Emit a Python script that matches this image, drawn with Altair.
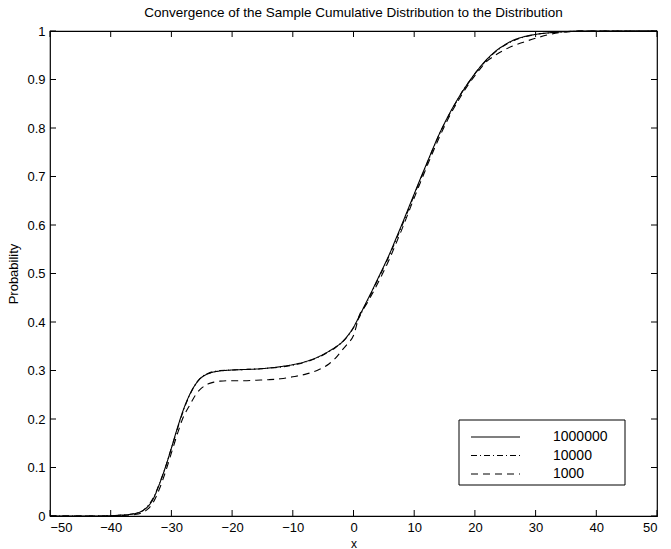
import altair as alt
import pandas as pd

# ---- data ----
x_vals = [-50, -42, -40, -38, -37, -36, -35, -34, -33, -32,
          -31, -30, -29, -28, -27, -26, -25, -24, -23, -22,
          -20, -18, -16, -14, -12, -10, -8, -6, -5, -4,
          -3, -2, -1, 0, 1, 2, 3, 4, 5, 6,
          7, 8, 9, 10, 11, 12, 13, 14, 15, 16,
          17, 18, 19, 20, 21, 22, 23, 24, 25, 26,
          28, 30, 32, 34, 36, 38, 40, 45, 50]

p_1000000 = [0, 0, 0.0005, 0.002, 0.003, 0.005, 0.009, 0.018, 0.035, 0.065,
             0.10, 0.14, 0.182, 0.22, 0.25, 0.272, 0.286, 0.293, 0.297, 0.299,
             0.301, 0.302, 0.303, 0.305, 0.308, 0.312, 0.318, 0.327, 0.333, 0.340,
             0.348, 0.357, 0.371, 0.389, 0.413, 0.438, 0.463, 0.489, 0.515, 0.542,
             0.572, 0.602, 0.633, 0.664, 0.695, 0.725, 0.755, 0.784, 0.810, 0.834,
             0.856, 0.876, 0.895, 0.912, 0.928, 0.942, 0.954, 0.964, 0.972, 0.979,
             0.988, 0.993, 0.996, 0.998, 0.9993, 1, 1, 1, 1]

p_10000 = [0, 0, 0.0005, 0.002, 0.003, 0.005, 0.009, 0.019, 0.037, 0.066,
           0.10, 0.14, 0.18, 0.218, 0.249, 0.272, 0.287, 0.294, 0.298, 0.300,
           0.301, 0.302, 0.303, 0.305, 0.307, 0.311, 0.317, 0.326, 0.332, 0.339,
           0.347, 0.357, 0.370, 0.388, 0.411, 0.436, 0.461, 0.487, 0.513, 0.540,
           0.569, 0.599, 0.630, 0.662, 0.693, 0.723, 0.754, 0.783, 0.809, 0.833,
           0.855, 0.877, 0.894, 0.912, 0.927, 0.941, 0.953, 0.963, 0.971, 0.978,
           0.987, 0.993, 0.996, 0.998, 0.9993, 1, 1, 1, 1]

p_1000 = [0, 0, 0, 0.001, 0.002, 0.003, 0.006, 0.013, 0.028, 0.055,
          0.09, 0.13, 0.17, 0.205, 0.228, 0.25, 0.264, 0.272, 0.276, 0.278,
          0.279, 0.279, 0.280, 0.281, 0.283, 0.287, 0.292, 0.300, 0.306, 0.314,
          0.325, 0.340, 0.355, 0.372, 0.415, 0.434, 0.456, 0.480, 0.505, 0.532,
          0.562, 0.592, 0.624, 0.656, 0.687, 0.718, 0.748, 0.777, 0.804, 0.829,
          0.851, 0.872, 0.891, 0.908, 0.924, 0.938, 0.947, 0.955, 0.962, 0.968,
          0.977, 0.985, 0.992, 0.997, 0.999, 1, 1, 1, 1]

series_names = ["1000000", "10000", "1000"]
dash_styles = [[1, 0], [6, 3, 1, 3], [7, 5]]
x_ticks = [-50, -40, -30, -20, -10, 0, 10, 20, 30, 40, 50]
y_ticks = [0, 0.1, 0.2, 0.3, 0.4, 0.5, 0.6, 0.7, 0.8, 0.9, 1]

rows = []
for name, vals in zip(series_names, [p_1000000, p_10000, p_1000]):
    for xv, pv in zip(x_vals, vals):
        rows.append({"x": xv, "p": pv, "series": name})
df = pd.DataFrame(rows)
df_xt = pd.DataFrame({"x": x_ticks})
df_yt = pd.DataFrame({"p": y_ticks})
df_one = pd.DataFrame({"k": [0]})

W, H = 607, 485
FONT = "Liberation Sans"

xscale = alt.Scale(domain=[-50, 50], nice=False, zero=False)
yscale = alt.Scale(domain=[0, 1], nice=False, zero=False)
xaxis = alt.Axis(values=x_ticks, format="d", ticks=False, domain=False, grid=False,
                 labelPadding=5, labelFontSize=13, labelFont=FONT, labelColor="black",
                 title="x", titleFont=FONT, titleFontSize=12, titleFontWeight="normal",
                 titleColor="black", titleY=27, titleBaseline="middle")
yaxis = alt.Axis(values=y_ticks, format=".1~f", ticks=False, domain=False, grid=False,
                 labelPadding=5, labelFontSize=13, labelFont=FONT, labelColor="black",
                 title="Probability", titleFont=FONT, titleFontSize=13,
                 titleFontWeight="normal", titleColor="black", titleX=-37, titleY=H / 2,
                 titleAngle=-90, titleBaseline="middle", titleAlign="center")

lines = alt.Chart(df).mark_line(color="black", strokeWidth=1.1, interpolate="monotone").encode(
    x=alt.X("x:Q", scale=xscale, axis=xaxis),
    y=alt.Y("p:Q", scale=yscale, axis=yaxis),
    strokeDash=alt.StrokeDash(
        "series:N",
        scale=alt.Scale(domain=series_names, range=dash_styles),
        legend=None,
    ),
    detail="series:N",
)

tb = alt.Chart(df_xt).mark_rule(color="black", strokeWidth=1).encode(
    x=alt.X("x:Q", scale=xscale, axis=xaxis), y=alt.value(H), y2=alt.value(H - 6))
tt = alt.Chart(df_xt).mark_rule(color="black", strokeWidth=1).encode(
    x=alt.X("x:Q", scale=xscale, axis=xaxis), y=alt.value(0), y2=alt.value(6))
tl = alt.Chart(df_yt).mark_rule(color="black", strokeWidth=1).encode(
    y=alt.Y("p:Q", scale=yscale, axis=yaxis), x=alt.value(0), x2=alt.value(6))
tr = alt.Chart(df_yt).mark_rule(color="black", strokeWidth=1).encode(
    y=alt.Y("p:Q", scale=yscale, axis=yaxis), x=alt.value(W), x2=alt.value(W - 6))

# ---- legend box (drawn by hand, MATLAB style) ----
LX0, LX1, LY0, LY1 = 409, 575, 389, 454
row_y = [406, 424.5, 443]
legend_layers = [
    alt.Chart(df_one).mark_rect(fill="white", stroke="black", strokeWidth=1).encode(
        x=alt.value(LX0), x2=alt.value(LX1), y=alt.value(LY0), y2=alt.value(LY1))
]
for name, dash, yy in zip(series_names, dash_styles, row_y):
    legend_layers.append(
        alt.Chart(df_one).mark_rule(color="black", strokeWidth=1.1, strokeDash=dash).encode(
            x=alt.value(LX0 + 12), x2=alt.value(LX0 + 61), y=alt.value(yy)))
    legend_layers.append(
        alt.Chart(df_one).mark_text(text=name, align="left", baseline="middle", font=FONT,
                                    fontSize=14, color="black").encode(
            x=alt.value(LX0 + 94), y=alt.value(yy)))

chart = alt.layer(lines, tb, tt, tl, tr, *legend_layers).properties(
    width=W, height=H,
    autosize=alt.AutoSizeParams(type="none"),
    padding={"left": 50, "top": 31, "right": 14, "bottom": 33},
    title=alt.Title("Convergence of the Sample Cumulative Distribution to the Distribution",
                    font=FONT, fontSize=13.5, fontWeight="normal", color="black", offset=6),
    background="white",
).configure_view(stroke="black", strokeWidth=1.2)

chart.save("out.html", embed_options={"renderer": "svg", "actions": False})
